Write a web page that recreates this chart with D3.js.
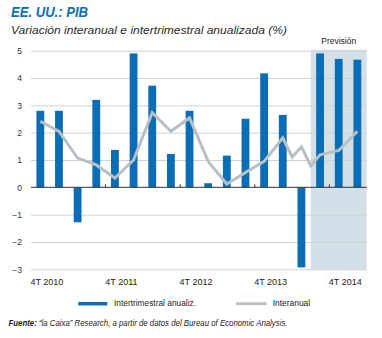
<!DOCTYPE html>
<html>
<head>
<meta charset="utf-8">
<script src="https://cdn.jsdelivr.net/npm/d3@7"></script>
<style>
  body { margin: 0; background: #fff; }
  svg { display: block; font-family: "Liberation Sans", Arial, sans-serif; }
  .grid line { stroke: #cfd2d4; stroke-width: 1; }
  .grid text { fill: #333; font-size: 8.5px; }
</style>
</head>
<body>
<svg id="chart"></svg>
<script>
// quarters shown on the axis (3T 2010 .. 4T 2014)
const quarters = [
  "3T 2010", "4T 2010", "1T 2011", "2T 2011", "3T 2011", "4T 2011",
  "1T 2012", "2T 2012", "3T 2012", "4T 2012", "1T 2013", "2T 2013",
  "3T 2013", "4T 2013", "1T 2014", "2T 2014", "3T 2014", "4T 2014"
];

// Intertrimestral anualizado (%)
const intertrimestral = [
  2.8, 2.8, -1.28, 3.2, 1.37, 4.9,
  3.72, 1.22, 2.8, 0.15, 1.16, 2.51,
  4.17, 2.65, -2.93, 4.9, 4.7, 4.67
];

// Interanual (%) - position on the quarter axis and value
const interanualT = [0, 1, 2, 3, 4, 5, 6, 7, 8, 9, 10, 11, 12, 13, 13.5, 14, 14.5, 15, 16, 17];
const interanual = [
  2.42, 2.05, 1.07, 0.82, 0.34, 1.0, 2.73, 2.05, 2.54, 0.95,
  0.12, 0.54, 0.95, 1.81, 1.11, 1.48, 0.79, 1.19, 1.35, 2.05
];

const yTicks = [-3, -2, -1, 0, 1, 2, 3, 4, 5];
const xTickLabels = ["4T 2010", "4T 2011", "4T 2012", "4T 2013", "4T 2014"];
const firstForecast = "2T 2014";

const W = 382, H = 338;
const plot = { left: 31, right: 366.7, top: 50.7, bottom: 269.3 };
const blue = "#0b6db6";

const svg = d3.select("#chart").attr("width", W).attr("height", H);

const x = d3.scaleBand()
  .domain(quarters)
  .range([plot.left, plot.right])
  .paddingInner(0.58)
  .paddingOuter(0.29);
const step = x.step();
const xPos = d3.scaleLinear()
  .domain([0, quarters.length - 1])
  .range([x(quarters[0]) + x.bandwidth() / 2, x(quarters[quarters.length - 1]) + x.bandwidth() / 2]);
const y = d3.scaleLinear().domain([-3, 5]).range([plot.bottom, plot.top]);

// Title and subtitle
svg.append("text")
  .attr("x", 11).attr("y", 16.7)
  .attr("textLength", 77).attr("lengthAdjust", "spacingAndGlyphs")
  .style("font-size", "14.5px").style("font-weight", "bold").style("font-style", "italic")
  .attr("fill", blue)
  .text("EE. UU.: PIB");

svg.append("text")
  .attr("x", 11).attr("y", 33.5)
  .attr("textLength", 276).attr("lengthAdjust", "spacingAndGlyphs")
  .style("font-size", "10.5px").style("font-style", "italic")
  .attr("fill", "#2b2b2b")
  .text("Variación interanual e intertrimestral anualizada (%)");

// Forecast shading
const shadeX0 = x(firstForecast) - (step - x.bandwidth()) / 2;
svg.append("rect")
  .attr("x", shadeX0)
  .attr("y", y(5) - 1)
  .attr("width", plot.right - shadeX0)
  .attr("height", y(-3) - y(5) + 1)
  .attr("fill", "#d3e0e8");

svg.append("text")
  .attr("x", (shadeX0 + plot.right) / 2).attr("y", 44.3)
  .attr("text-anchor", "middle")
  .style("font-size", "8.5px")
  .attr("fill", "#222")
  .text("Previsión");

// Gridlines + y labels
const yAxis = d3.axisLeft(y)
  .tickValues(yTicks)
  .tickSize(-(plot.right - plot.left))
  .tickPadding(9)
  .tickFormat(d3.format("d"));

svg.append("g")
  .attr("class", "grid")
  .attr("transform", `translate(${plot.left},0)`)
  .call(yAxis)
  .call(g => g.select(".domain").remove())
  .call(g => g.selectAll(".tick").filter(d => d === 0).select("line").remove());

// Bars
svg.append("g")
  .selectAll("rect")
  .data(intertrimestral)
  .join("rect")
  .attr("x", (d, i) => x(quarters[i]))
  .attr("width", x.bandwidth())
  .attr("y", d => y(Math.max(0, d)))
  .attr("height", d => Math.abs(y(d) - y(0)))
  .attr("fill", blue);

// Line
const line = d3.line()
  .x((d, i) => xPos(interanualT[i]))
  .y(d => y(d));

svg.append("path")
  .datum(interanual)
  .attr("d", line)
  .attr("fill", "none")
  .attr("stroke", "#b7c1c5")
  .attr("stroke-width", 3)
  .attr("stroke-linejoin", "miter");

// Zero line and category ticks
svg.append("line")
  .attr("x1", plot.left).attr("x2", plot.right)
  .attr("y1", y(0)).attr("y2", y(0))
  .attr("stroke", "#333").attr("stroke-width", 1);

const tickQs = xTickLabels.map((d, i) => quarters[i * 4]);
const tickX = q => x(q) - (step - x.bandwidth()) / 2;

svg.append("g")
  .selectAll("line")
  .data(tickQs.slice(1))
  .join("line")
  .attr("x1", tickX).attr("x2", tickX)
  .attr("y1", y(0)).attr("y2", y(0) - 3)
  .attr("stroke", "#333");

svg.append("g")
  .selectAll("text")
  .data(xTickLabels)
  .join("text")
  .attr("x", (d, i) => tickX(tickQs[i]) + step * 0.85)
  .attr("y", 285)
  .attr("text-anchor", "middle")
  .style("font-size", "9px")
  .attr("fill", "#222")
  .text(d => d);

// Legend
const legend = svg.append("g");
legend.append("rect")
  .attr("x", 78.3).attr("y", 302).attr("width", 29).attr("height", 3.5)
  .attr("fill", blue);
legend.append("text")
  .attr("x", 114).attr("y", 306)
  .attr("textLength", 82).attr("lengthAdjust", "spacingAndGlyphs")
  .style("font-size", "8.5px").attr("fill", "#222")
  .text("Intertrimestral anualiz.");
legend.append("rect")
  .attr("x", 236).attr("y", 302.3).attr("width", 30.7).attr("height", 2.8)
  .attr("fill", "#b7c1c5");
legend.append("text")
  .attr("x", 272.7).attr("y", 306)
  .attr("textLength", 37.5).attr("lengthAdjust", "spacingAndGlyphs")
  .style("font-size", "8.5px").attr("fill", "#222")
  .text("Interanual");

// Source
const src = svg.append("text")
  .attr("x", 8.5).attr("y", 326)
  .attr("textLength", 279).attr("lengthAdjust", "spacingAndGlyphs")
  .style("font-size", "8.5px").style("font-style", "italic")
  .attr("fill", "#222");
src.append("tspan").style("font-weight", "bold").text("Fuente: ");
src.append("tspan").text("“la Caixa” Research, a partir de datos del Bureau of Economic Analysis.");
</script>
</body>
</html>
